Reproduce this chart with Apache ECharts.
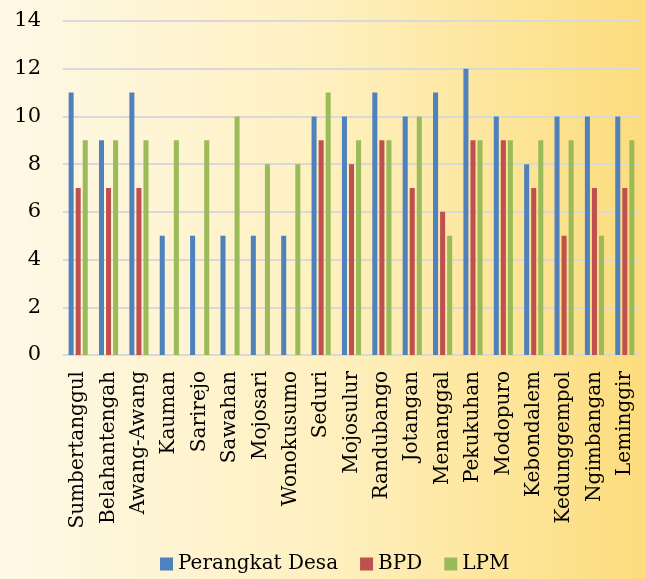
<!DOCTYPE html>
<html>
<head>
<meta charset="utf-8">
<script src="https://cdn.jsdelivr.net/npm/echarts@6/dist/echarts.min.js"></script>
<style>
  html, body { margin: 0; padding: 0; }
  #main { width: 646px; height: 579px; background: linear-gradient(to right, #fef9e7 0%, #fef0c0 50%, #fcdc7c 100%); }
</style>
</head>
<body>
<div id="main"></div>
<script>
var villages = ['Sumbertanggul', 'Belahantengah', 'Awang-Awang', 'Kauman', 'Sarirejo', 'Sawahan', 'Mojosari',
  'Wonokusumo', 'Seduri', 'Mojosulur', 'Randubango', 'Jotangan', 'Menanggal', 'Pekukuhan', 'Modopuro',
  'Kebondalem', 'Kedunggempol', 'Ngimbangan', 'Leminggir'];
var perangkatDesa = [11, 9, 11, 5, 5, 5, 5, 5, 10, 10, 11, 10, 11, 12, 10, 8, 10, 10, 10];
var bpd = [7, 7, 7, 0, 0, 0, 0, 0, 9, 8, 9, 7, 6, 9, 9, 7, 5, 7, 7];
var lpm = [9, 9, 9, 9, 9, 10, 8, 8, 11, 9, 9, 10, 5, 9, 9, 9, 9, 5, 9];

var font = 'DejaVu Serif';
var myChart = echarts.init(document.getElementById('main'));
// chart
myChart.setOption({
  textStyle: { fontFamily: font },
  legend: {
    left: 160, top: 554,
    padding: 0,
    itemWidth: 13, itemHeight: 13, itemGap: 22,
    icon: 'rect',
    textStyle: { fontFamily: font, fontSize: 20, color: '#000' },
    data: ['Perangkat Desa', 'BPD', 'LPM']
  },
  grid: { left: 63, right: 6, top: 21, bottom: 224 },
  xAxis: {
    type: 'category',
    data: villages,
    axisLine: { show: false },
    axisTick: { show: false },
    axisLabel: { rotate: 90, interval: 0, fontFamily: font, fontSize: 20, color: '#000', margin: 16 }
  },
  yAxis: {
    type: 'value',
    min: 0, max: 14, interval: 2,
    axisLabel: { fontFamily: font, fontSize: 21, color: '#000', margin: 22 },
    splitLine: { lineStyle: { color: '#d9d9dc', width: 2 } }
  },
  series: [
    { name: 'Perangkat Desa', type: 'bar', data: perangkatDesa, barGap: '40%', barCategoryGap: '37%',
      itemStyle: { color: '#4f81bd' } },
    { name: 'BPD', type: 'bar', data: bpd, itemStyle: { color: '#c0504d' } },
    { name: 'LPM', type: 'bar', data: lpm, itemStyle: { color: '#9bbb59' } }
  ]
});
</script>
</body>
</html>
